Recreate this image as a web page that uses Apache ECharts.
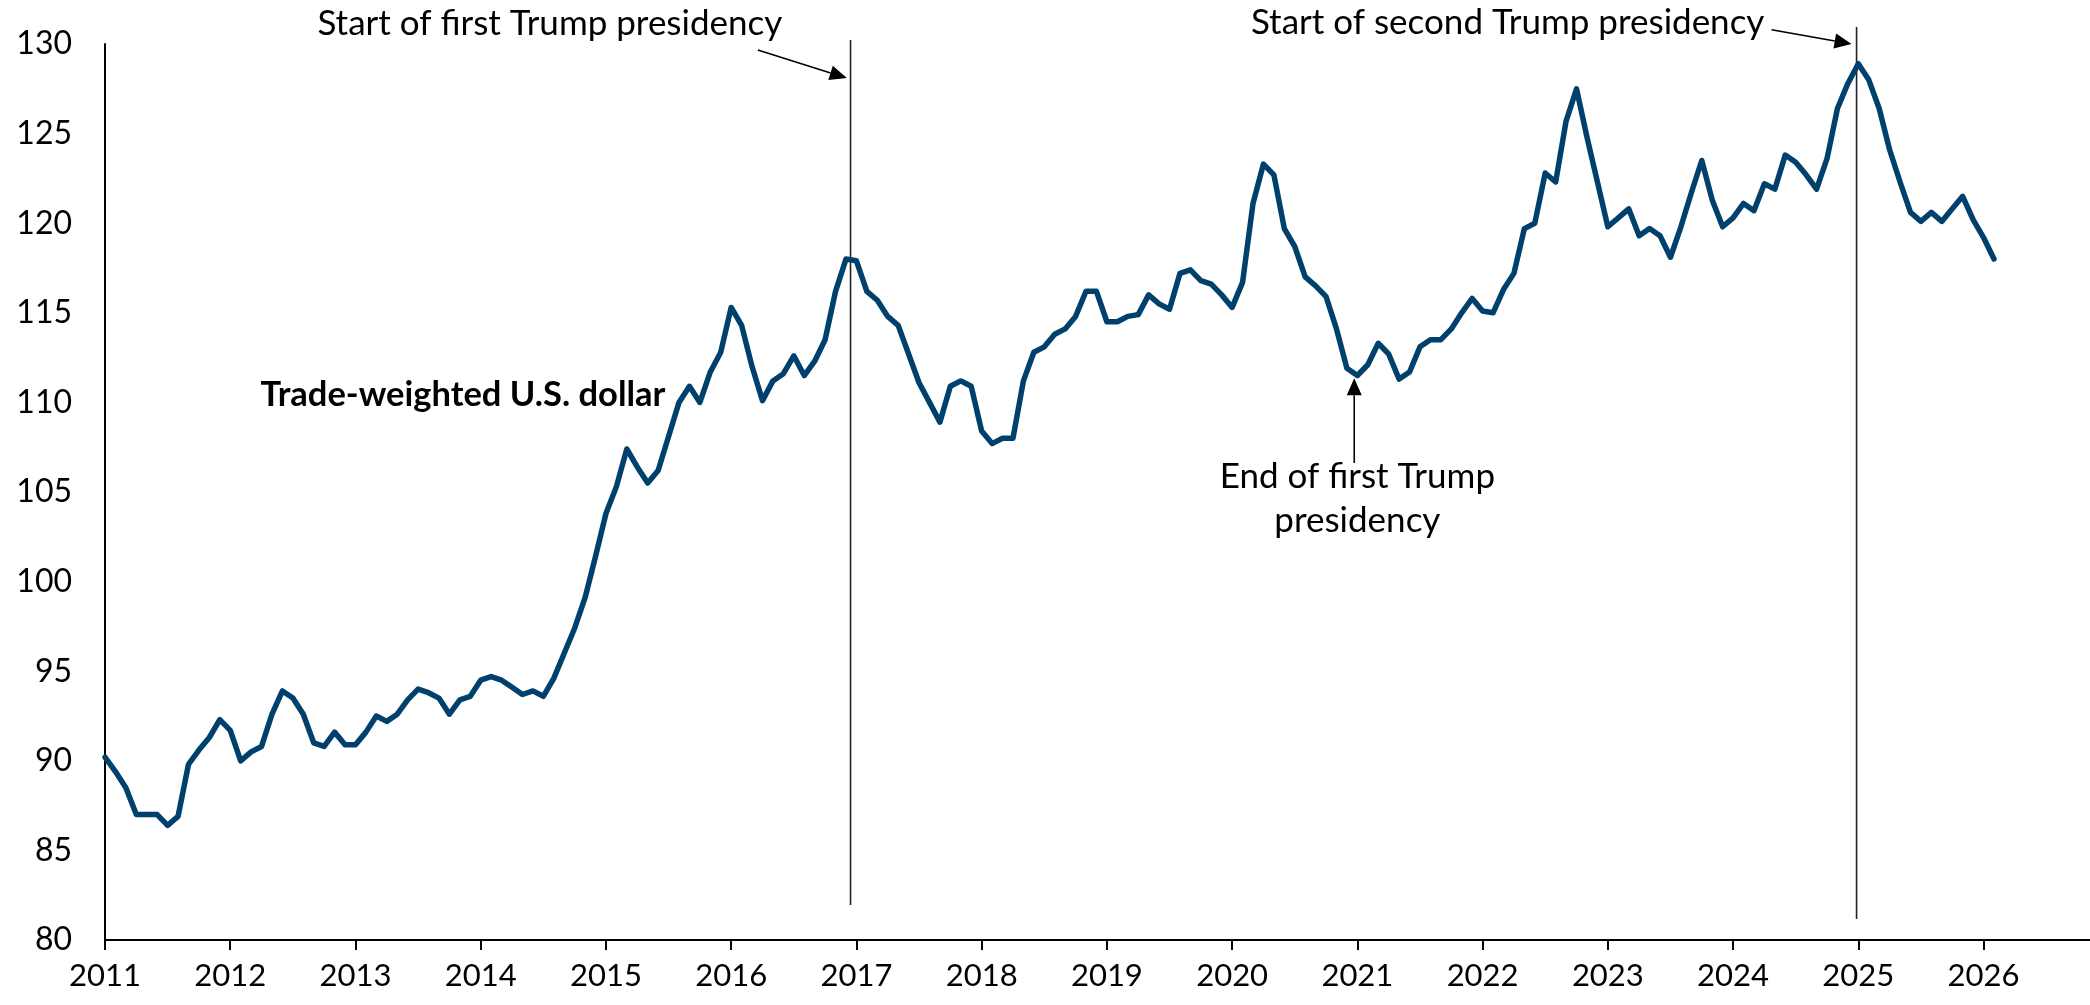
<!DOCTYPE html>
<html>
<head>
<meta charset="utf-8">
<title>Trade-weighted U.S. dollar</title>
<script src="https://cdn.jsdelivr.net/npm/echarts@6/dist/echarts.min.js"></script>
<style>
  html, body { margin: 0; padding: 0; background: #fff; }
  #chart { width: 2090px; height: 1005px; }
</style>
</head>
<body>
<div id="chart"></div>
<script>
// Monthly trade-weighted U.S. dollar index, January 2011 onward
const startYear = 2011;
const dollarIndex = [
  // 2011
  90.2, 89.4, 88.5, 87.0, 87.0, 87.0, 86.4, 86.9, 89.8, 90.6, 91.3, 92.3,
  // 2012
  91.7, 90.0, 90.5, 90.8, 92.6, 93.9, 93.5, 92.6, 91.0, 90.8, 91.6, 90.9,
  // 2013
  90.9, 91.6, 92.5, 92.2, 92.6, 93.4, 94.0, 93.8, 93.5, 92.6, 93.4, 93.6,
  // 2014
  94.5, 94.7, 94.5, 94.1, 93.7, 93.9, 93.6, 94.6, 96.0, 97.4, 99.1, 101.4,
  // 2015
  103.8, 105.3, 107.4, 106.4, 105.5, 106.2, 108.1, 110.0, 110.9, 110.0, 111.7, 112.8,
  // 2016
  115.3, 114.3, 112.0, 110.1, 111.2, 111.6, 112.6, 111.5, 112.3, 113.5, 116.2, 118.0,
  // 2017
  117.9, 116.2, 115.7, 114.8, 114.3, 112.7, 111.1, 110.0, 108.9, 110.9, 111.2, 110.9,
  // 2018
  108.4, 107.7, 108.0, 108.0, 111.2, 112.8, 113.1, 113.8, 114.1, 114.8, 116.2, 116.2,
  // 2019
  114.5, 114.5, 114.8, 114.9, 116.0, 115.5, 115.2, 117.2, 117.4, 116.8, 116.6, 116.0,
  // 2020
  115.3, 116.7, 121.1, 123.3, 122.7, 119.7, 118.7, 117.0, 116.5, 115.9, 114.1, 111.9,
  // 2021
  111.5, 112.1, 113.3, 112.7, 111.3, 111.7, 113.1, 113.5, 113.5, 114.1, 115.0, 115.8,
  // 2022
  115.1, 115.0, 116.3, 117.2, 119.7, 120.0, 122.8, 122.3, 125.7, 127.5, 124.8, 122.3,
  // 2023
  119.8, 120.3, 120.8, 119.3, 119.7, 119.3, 118.1, 119.8, 121.7, 123.5, 121.3, 119.8,
  // 2024
  120.3, 121.1, 120.7, 122.2, 121.9, 123.8, 123.4, 122.7, 121.9, 123.6, 126.4, 127.8,
  // 2025
  128.9, 128.0, 126.4, 124.1, 122.3, 120.6, 120.1, 120.6, 120.1, 120.8, 121.5, 120.2,
  // 2026
  119.2, 118.0
];

// Year tick labels along the bottom axis
const yearTicks = [2011, 2012, 2013, 2014, 2015, 2016, 2017, 2018, 2019, 2020,
                   2021, 2022, 2023, 2024, 2025, 2026];

// Presidential term markers (x in fractional years)
const termMarkers = [2016.953, 2024.986];

const FONT = 'Lato, "Open Sans", sans-serif';
const LINE_COLOR = '#00406C';

const seriesData = dollarIndex.map((v, i) => [startYear + i / 12, v]);

const chart = echarts.init(document.getElementById('chart'), null, { renderer: 'canvas' });

chart.setOption({
  backgroundColor: '#ffffff',
  animation: false,
  grid: { left: 105, right: 0, top: 44, bottom: 65 },
  xAxis: {
    type: 'value',
    min: 2011,
    max: 2026.85,
    splitLine: { show: false },
    axisLine: { show: true, onZero: false, lineStyle: { color: '#000', width: 2 } },
    axisTick: {
      show: true, inside: false, length: 10,
      customValues: yearTicks,
      lineStyle: { color: '#000', width: 2 }
    },
    axisLabel: {
      customValues: yearTicks,
      formatter: v => String(v),
      color: '#000', fontFamily: FONT, fontSize: 31, margin: 20
    }
  },
  yAxis: {
    type: 'value',
    min: 80,
    max: 130,
    interval: 5,
    splitLine: { show: false },
    axisLine: { show: true, lineStyle: { color: '#000', width: 2 } },
    axisTick: { show: false },
    axisLabel: { color: '#000', fontFamily: FONT, fontSize: 32, margin: 33 }
  },
  series: [{
    name: 'Trade-weighted U.S. dollar',
    type: 'line',
    data: seriesData,
    showSymbol: false,
    symbol: 'none',
    z: 3,
    lineStyle: { color: LINE_COLOR, width: 5.5, join: 'round', cap: 'round' }
  }]
});

// Annotation overlay placed through the chart's own coordinate conversion
function px(x, y) {
  return chart.convertToPixel({ gridIndex: 0 }, [x, y]);
}

function arrow(from, to) {
  const a = px(from[0], from[1]);
  const b = px(to[0], to[1]);
  const dx = b[0] - a[0], dy = b[1] - a[1];
  const len = Math.sqrt(dx * dx + dy * dy);
  const ux = dx / len, uy = dy / len;
  const headLen = 17, headHalf = 7.5;
  const base = [b[0] - ux * headLen, b[1] - uy * headLen];
  return [
    {
      type: 'line', z: 10,
      shape: { x1: a[0], y1: a[1], x2: base[0], y2: base[1] },
      style: { stroke: '#000', lineWidth: 1.6 }
    },
    {
      type: 'polygon', z: 10,
      shape: { points: [
        b,
        [base[0] - uy * headHalf, base[1] + ux * headHalf],
        [base[0] + uy * headHalf, base[1] - ux * headHalf]
      ] },
      style: { fill: '#000' }
    }
  ];
}

function label(x, y, text, opts) {
  const p = px(x, y);
  return {
    type: 'text', z: 10,
    x: p[0], y: p[1],
    style: Object.assign({
      text: text,
      fill: '#000',
      font: '35px ' + FONT,
      align: 'center',
      verticalAlign: 'middle'
    }, opts || {})
  };
}

const graphics = [];

// Vertical term lines
const lineSpans = [[130.22, 81.95], [130.95, 81.17]];
termMarkers.forEach((x, i) => {
  const top = px(x, lineSpans[i][0]);
  const bot = px(x, lineSpans[i][1]);
  graphics.push({
    type: 'line', z: 1,
    shape: { x1: top[0], y1: top[1], x2: bot[0], y2: bot[1] },
    style: { stroke: '#222', lineWidth: 1.6 }
  });
});

graphics.push(label(2014.552, 131.12, 'Start of first Trump presidency'));
graphics.push(label(2022.200, 131.17, 'Start of second Trump presidency'));
graphics.push(label(2021.0, 105.84, 'End of first Trump'));
graphics.push(label(2021.0, 103.38, 'presidency'));
graphics.push(label(2013.858, 110.41, 'Trade-weighted U.S. dollar', { font: 'bold 34.5px ' + FONT }));

graphics.push(...arrow([2016.213, 129.665], [2016.923, 128.10]));
graphics.push(...arrow([2024.307, 130.80], [2024.946, 130.0]));
graphics.push(...arrow([2020.975, 106.62], [2020.975, 111.35]));

chart.setOption({ graphic: { elements: graphics } });
</script>
</body>
</html>
